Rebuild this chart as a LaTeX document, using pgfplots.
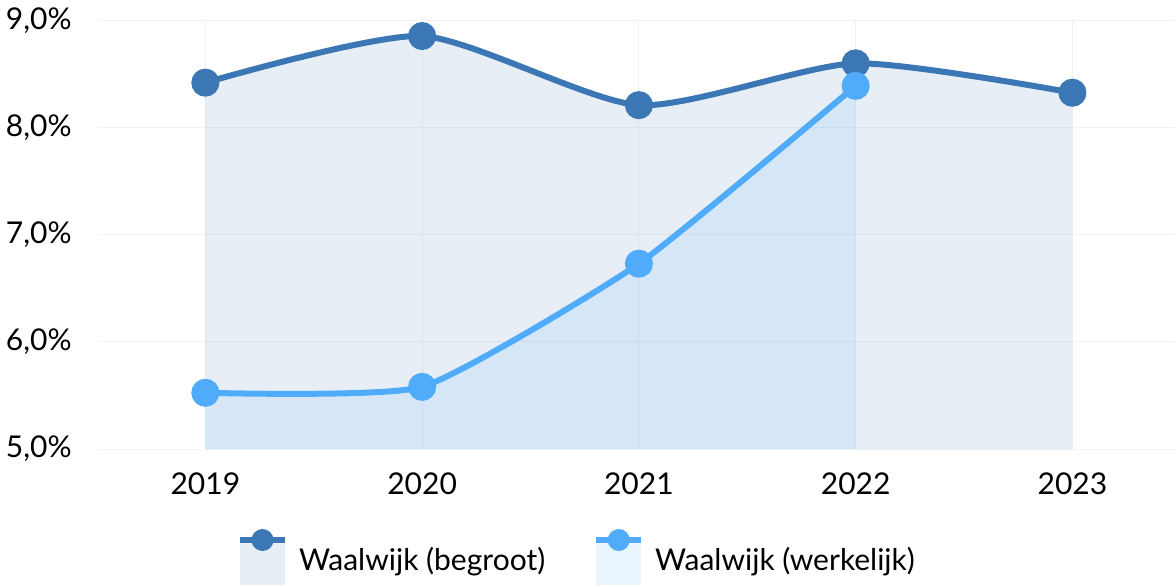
\documentclass[border=0pt]{standalone}
\usepackage{fontspec}
\setmainfont{Lato}
\usepackage{pgfplots}
\usepackage{pgfplotstable}
\pgfplotsset{compat=1.18}
\definecolor{cbeg}{RGB}{58,119,180}
\definecolor{cwer}{RGB}{80,172,250}
\definecolor{cgrid}{RGB}{242,242,242}

\pgfplotstableread{
x y
2019 8.42
2020 8.855
2021 8.21
2022 8.60
2023 8.326
}\begroot

\pgfplotstableread{
x y
2019 5.525
2020 5.58
2021 6.73
2022 8.39
}\werkelijk

\begin{document}
\fontsize{15pt}{18pt}\selectfont
\begin{tikzpicture}
\begin{axis}[
  scale only axis,
  width=541.9pt, height=214.25pt,
  xmin=2018.5, xmax=2023.5, ymin=5, ymax=9,
  axis line style={draw=none},
  major tick length=0pt,
  tick style={draw=none},
  xtick={2019,2020,2021,2022,2023},
  xticklabels={2019,2020,2021,2022,2023},
  ytick={5,6,7,8,9},
  yticklabels={{5,0\%},{6,0\%},{7,0\%},{8,0\%},{9,0\%}},
  grid=major,
  major grid style={draw=cgrid, line width=0.5pt},
  tick label style={font=\fontsize{15pt}{18pt}\selectfont},
  yticklabel style={anchor=east, inner sep=0pt, xshift=-12.5pt},
  xticklabel style={anchor=north, inner sep=0pt, yshift=-11.5pt},
  legend columns=2,
  legend cell align=left,
  legend style={
    at={(axis description cs:0.1292,-0.1867)}, anchor=north west,
    draw=none, fill=none, inner sep=0pt, outer sep=0pt,
    font=\fontsize{15pt}{18pt}\selectfont,
    nodes={inner sep=0pt},
    /tikz/every odd column/.style={column sep=5.5pt},
    /tikz/every even column/.style={column sep=24pt},
  },
]
\addplot[draw=none, fill=cbeg, fill opacity=0.12, smooth, tension=0.4, forget plot] table {\begroot} \closedcycle;
\addplot[draw=none, fill=cwer, fill opacity=0.12, smooth, tension=0.3, forget plot] table {\werkelijk} \closedcycle;
\addplot[cbeg, line width=3pt, smooth, tension=0.4, mark=*, mark size=5.5pt, mark options={fill=cbeg, draw=none}, forget plot] table {\begroot};
\addplot[cwer, line width=3pt, smooth, tension=0.3, mark=*, mark size=5.5pt, mark options={fill=cwer, draw=none}, forget plot] table {\werkelijk};

\addlegendimage{legend image code/.code={
  \path[draw=none, fill=cbeg, fill opacity=0.12] (0pt,-12pt) rectangle (22.5pt,9pt);
  \path[draw=cbeg, line width=3pt] (0pt,10.5pt) -- (22.5pt,10.5pt);
  \path[draw=none, fill=cbeg] (11.25pt,10.5pt) circle (5.5pt);
}}
\addlegendentry{Waalwijk (begroot)}
\addlegendimage{legend image code/.code={
  \path[draw=none, fill=cwer, fill opacity=0.12] (0pt,-12pt) rectangle (22.5pt,9pt);
  \path[draw=cwer, line width=3pt] (0pt,10.5pt) -- (22.5pt,10.5pt);
  \path[draw=none, fill=cwer] (11.25pt,10.5pt) circle (5.5pt);
}}
\addlegendentry{Waalwijk (werkelijk)}
\end{axis}
\pgfresetboundingbox
\path[use as bounding box] (-48.5pt,-68.5pt) rectangle (539pt,224.5pt);
\end{tikzpicture}
\end{document}
